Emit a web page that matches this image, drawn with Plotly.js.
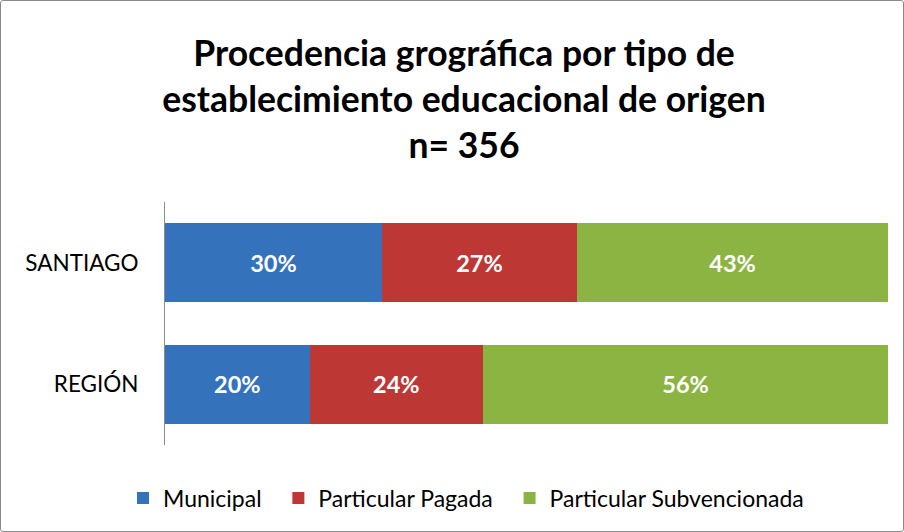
<!DOCTYPE html>
<html>
<head>
<meta charset="utf-8">
<script src="https://cdn.plot.ly/plotly-3.0.1.min.js"></script>
<style>
  html, body { margin: 0; padding: 0; background: #ffffff; }
  #wrap { position: relative; width: 904px; height: 532px; }
  #chart { width: 904px; height: 532px; }
  #frame { position: absolute; left: 0; top: 0; width: 902px; height: 530px;
           border: 1px solid #8a8a8a; border-radius: 3px; pointer-events: none; }
</style>
</head>
<body>
<div id="wrap">
  <div id="chart"></div>
  <div id="frame"></div>
</div>
<script>
// Data
const categories = ["SANTIAGO", "REGIÓN"];
const seriesNames = ["Municipal", "Particular Pagada", "Particular Subvencionada"];
const municipal = [30, 20];
const particularPagada = [27, 24];
const particularSubvencionada = [43, 56];
const seriesColors = ["#3572BC", "#BD3735", "#8CB443"];
const titleText = "Procedencia grográfica por tipo de<br>establecimiento educacional de origen<br>n= 356";

const FONT = "Lato, 'Open Sans', sans-serif";
const values = [municipal, particularPagada, particularSubvencionada];
const legendPad = "\u00A0\u00A0";

const traces = values.map((v, i) => ({
  type: "bar",
  orientation: "h",
  name: seriesNames[i] + (i < values.length - 1 ? legendPad : ""),
  y: categories,
  x: v,
  width: 0.65,
  marker: { color: seriesColors[i], line: { width: 0 } },
  text: v.map(n => n + "%"),
  textposition: "inside",
  insidetextanchor: "middle",
  textfont: { family: FONT, size: 23.5, color: "#ffffff", weight: "bold" },
  hoverinfo: "none"
}));

const layout = {
  width: 904,
  height: 532,
  barmode: "stack",
  paper_bgcolor: "#ffffff",
  plot_bgcolor: "#ffffff",
  margin: { l: 165, r: 16, t: 202, b: 87, autoexpand: false },
  font: { family: FONT, color: "#000000" },
  title: {
    text: titleText,
    font: { family: FONT, size: 35.5, weight: "bold", color: "#000000" },
    x: 464 / 904,
    xref: "container",
    xanchor: "center",
    y: 1 - 66 / 532,
    yref: "container",
    yanchor: "top"
  },
  xaxis: {
    range: [0, 100],
    visible: false,
    fixedrange: true
  },
  yaxis: {
    type: "category",
    autorange: "reversed",
    range: [1.5, -0.5],
    showline: true,
    linecolor: "#8c8c8c",
    linewidth: 1,
    ticks: "",
    showgrid: false,
    zeroline: false,
    ticklabelstandoff: 21,
    tickfont: { family: FONT, size: 22.5, color: "#000000" },
    fixedrange: true
  },
  showlegend: true,
  legend: {
    orientation: "h",
    x: (466 - 165) / 723,
    xanchor: "center",
    y: (445 - 498) / 243,
    yanchor: "middle",
    font: { family: FONT, size: 23, color: "#000000" },
    traceorder: "normal",
    itemclick: false,
    itemdoubleclick: false
  }
};

Plotly.newPlot("chart", traces, layout, { displayModeBar: false, staticPlot: true });
</script>
</body>
</html>
